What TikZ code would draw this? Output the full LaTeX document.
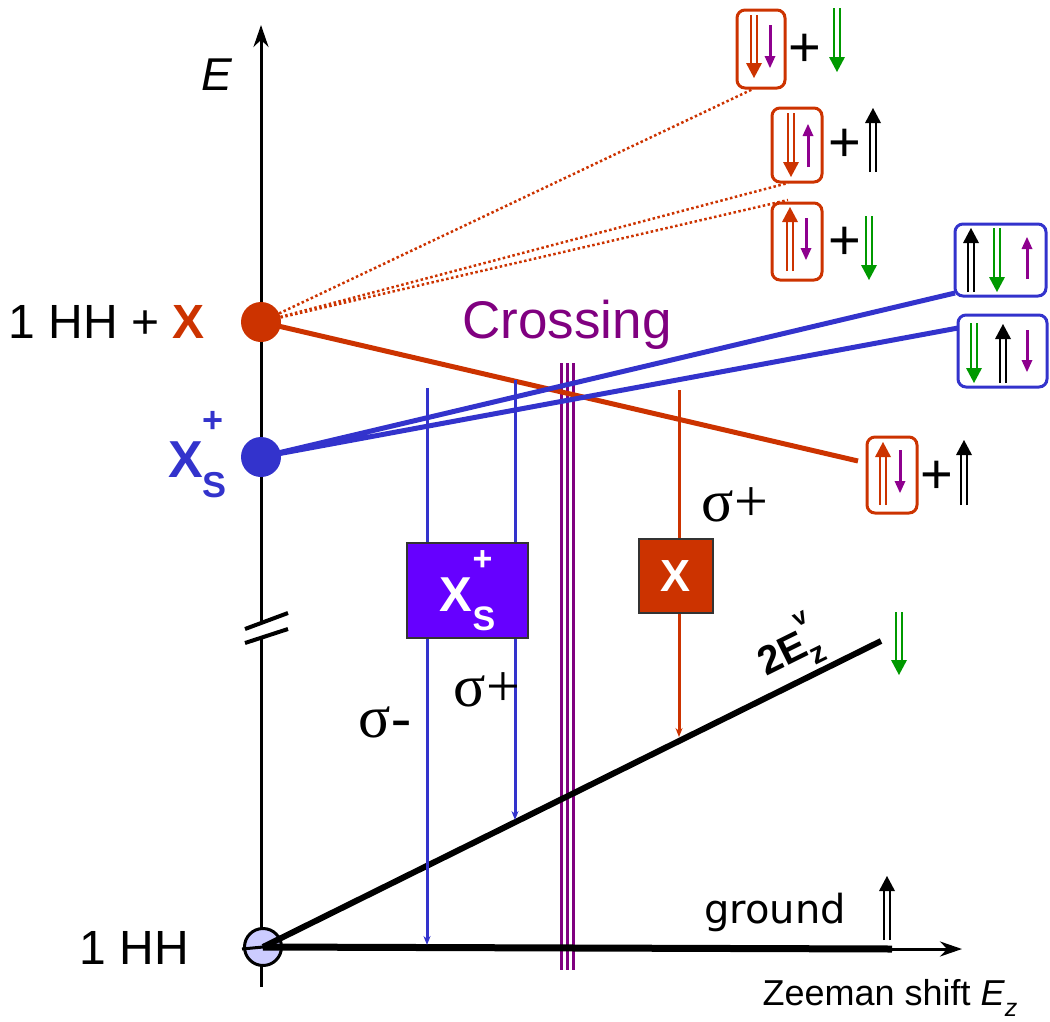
\documentclass[tikz,border=0pt]{standalone}
\usepackage{fontspec}
\setmainfont{Liberation Sans}
\newfontfamily\serifsym{Liberation Serif}
\newfontfamily\dejavu{DejaVu Sans}
\usetikzlibrary{arrows.meta}
\definecolor{cred}{HTML}{CC3300}
\definecolor{cblue}{HTML}{3333CC}
\definecolor{cpurp}{HTML}{8E008E}
\definecolor{ccross}{HTML}{800080}
\definecolor{cgreen}{HTML}{009900}
\definecolor{cviolet}{HTML}{6600FF}
\definecolor{chh}{HTML}{CCCCFF}
% double arrow: colour, x, y of tail, y of head
\newcommand\DArrow[4]{%
  \pgfmathsetmacro\dhd{(#4>#3) ? -15 : 15}%
  \draw[#1, line width=2pt] ({#2-2.8},#3) -- ({#2-2.8},{#4+\dhd}) ({#2+2.8},#3) -- ({#2+2.8},{#4+\dhd});
  \fill[#1] ({#2-8},{#4+\dhd}) -- (#2,#4) -- ({#2+8},{#4+\dhd}) -- cycle;}
% single arrow
\newcommand\SArrow[4]{%
  \pgfmathsetmacro\shd{(#4>#3) ? -12 : 12}%
  \draw[#1, line width=3pt] (#2,#3) -- (#2,{#4+\shd});
  \fill[#1] ({#2-5.5},{#4+\shd}) -- (#2,#4) -- ({#2+5.5},{#4+\shd}) -- cycle;}
\begin{document}
\begin{tikzpicture}[x=1pt,y=-1pt,
  rbox/.style={draw=cred, line width=3pt, rounded corners=8pt, inner sep=0pt},
  bbox/.style={draw=cblue, line width=3pt, rounded corners=8pt, inner sep=0pt},
  plus/.style={font=\fontsize{56}{60}\selectfont, inner sep=0pt},
  trans/.style={line width=3pt, -{Stealth[length=9pt,width=7pt]}},
  sig/.style={font=\serifsym\fontsize{60}{64}\selectfont, inner sep=0pt},
  big/.style={font=\fontsize{48}{54}\selectfont, inner sep=0pt}]
\useasboundingbox (0,0) rectangle (1050,1021);

% energy axis
\coordinate (ebot) at (261,987);
\coordinate (etop) at (261,25);
\coordinate (gap1) at (261,622);
\coordinate (gap2) at (261,637);
\draw[line width=3pt] (ebot) -- (gap2);
\draw[line width=3pt, -{Stealth[length=22pt,width=15pt]}] (gap1) -- (etop);
\draw[line width=4pt] (245,629) -- (288,613) (245,643) -- (288,629);
\node[font=\itshape\fontsize{46}{50}\selectfont] (elab) at (217,75) {E};

% crossing lines
\foreach \xx in {561.5,567.5,573}
  \draw[ccross, line width=3pt] (\xx,363) -- (\xx,970);
\node[ccross, font=\fontsize{53}{58}\selectfont, inner sep=0pt] (cross) at (567,325) {Crossing};

% state circles
\node[circle, fill=cred, minimum size=40pt, inner sep=0pt] (X) at (261,322) {};
\node[circle, fill=cblue, minimum size=40pt, inner sep=0pt] (XS) at (261,457) {};
\node[circle, fill=chh, draw=black, line width=3pt, minimum size=37pt, inner sep=0pt] (HH) at (263,947) {};

% state boxes
\node[rbox, minimum width=48pt, minimum height=78pt] (s1) at (761,49) {};
\node[rbox, minimum width=50pt, minimum height=74pt] (s2) at (797,145) {};
\node[rbox, minimum width=50pt, minimum height=77pt] (s3) at (797,241.5) {};
\node[rbox, minimum width=50pt, minimum height=76pt] (s4) at (892,475) {};
\node[bbox, minimum width=91pt, minimum height=72pt] (b1) at (1000.5,260) {};
\node[bbox, minimum width=89pt, minimum height=72pt] (b2) at (1002.5,351) {};

% box contents
\DArrow{cred}{754}{15}{78}  \SArrow{cpurp}{770}{25}{68}
\node[plus] (p1) at (805,50) {+};  \DArrow{cgreen}{837}{8}{72}
\DArrow{cred}{791}{113}{177} \SArrow{cpurp}{808}{167}{124}
\node[plus] (p2) at (845,145) {+}; \DArrow{black}{873}{172}{108}
\DArrow{cred}{790}{271}{207} \SArrow{cpurp}{806}{218}{260}
\node[plus] (p3) at (845,243) {+}; \DArrow{cgreen}{869}{216}{280}
\DArrow{cred}{883}{505}{442} \SArrow{cpurp}{900}{450}{493}
\node[plus] (p4) at (937,477) {+}; \DArrow{black}{964}{505}{440}
\DArrow{black}{971}{292}{228} \DArrow{cgreen}{997}{228}{292} \SArrow{cpurp}{1027}{279}{237}
\DArrow{cgreen}{974}{323}{383} \DArrow{black}{1003}{383}{324} \SArrow{cpurp}{1027}{330}{372}

% level lines
\coordinate (d1) at (753,89);
\coordinate (d2) at (788,183);
\coordinate (d3) at (788,200);
\draw[cred, line width=2.5pt, dash pattern=on 2.5pt off 2.5pt] (X.center) -- (d1) (X.center) -- (d2) (X.center) -- (d3);
\coordinate (rend) at (858,461);
\draw[cred, line width=5pt] (X.center) -- (rend);
\coordinate (bend1) at (955,293);
\coordinate (bend2) at (958,328);
\draw[cblue, line width=5pt] (XS.center) -- (bend1) (XS.center) -- (bend2);

% ground and Zeeman axis
\coordinate (hl) at (242,949);
\coordinate (gend) at (892,949);
\coordinate (xtip) at (962,949);
\draw[line width=3pt] (hl) -- (HH.center);
\draw[line width=7pt] (HH.center) -- (gend);
\draw[line width=3pt, -{Stealth[length=22pt,width=15pt]}] (gend) -- (xtip);
\node[font=\dejavu\fontsize{40}{44}\selectfont, inner sep=0pt] (gnd) at (775,912) {ground};
\DArrow{black}{887}{940}{876}
\node[font=\fontsize{36}{40}\selectfont, inner sep=0pt] (zee) at (890,998) {Zeeman shift \textit{E}\raisebox{-0.3em}{\fontsize{25}{27}\selectfont\textit{z}}};

% 2Ez line
\coordinate (ez) at (881,641);
\draw[line width=6pt] (HH.center) -- (ez)
  node[pos=0.875, above=4pt, sloped, font=\bfseries\fontsize{40}{44}\selectfont, inner sep=0pt] (ezlab)
  {2E\makebox[0pt][l]{\raisebox{0.75em}{\fontsize{24}{26}\selectfont v}}\raisebox{-0.3em}{\fontsize{30}{32}\selectfont z}};
\DArrow{cgreen}{899}{612}{675}

% transitions
\coordinate (t1s) at (427,388); \coordinate (t1e) at (427,945);
\coordinate (t2s) at (515,380); \coordinate (t2e) at (515,820);
\coordinate (t3s) at (679,390); \coordinate (t3e) at (679,737);
\draw[cblue, trans] (t1s) -- (t1e);
\draw[cblue, trans] (t2s) -- (t2e);
\draw[cred, trans] (t3s) -- (t3e);

% transition boxes
\node[fill=cviolet, draw=black!80, line width=2pt, minimum width=121pt, minimum height=95pt, inner sep=0pt,
  text=white, font=\bfseries\fontsize{49}{55}\selectfont] (xsbox) at (467.5,590.5)
  {X\makebox[0pt][l]{\raisebox{0.85em}{\fontsize{34}{36}\selectfont +}}\raisebox{-0.38em}{\fontsize{34}{36}\selectfont S}};
\node[fill=cred, draw=black!80, line width=2pt, minimum width=74pt, minimum height=74pt, inner sep=0pt,
  text=white, font=\bfseries\fontsize{45}{50}\selectfont] (xbox) at (676,576) {X};

\node[sig] (sg1) at (735,505) {σ+};
\node[sig] (sg2) at (385,722) {σ-};
\node[sig] (sg3) at (487,690) {σ+};

% left labels
\node[big, anchor=east] (lx) at (205,322) {1 HH + \textcolor{cred}{\bfseries X}};
\node[big, text=cblue, font=\bfseries\fontsize{52}{58}\selectfont, anchor=west] (lxs) at (168,455)
  {X\makebox[0pt][l]{\raisebox{0.85em}{\fontsize{36}{38}\selectfont +}}\raisebox{-0.4em}{\fontsize{36}{38}\selectfont S}};
\node[big, anchor=east] (lhh) at (189,948) {1 HH};
\end{tikzpicture}
\end{document}
